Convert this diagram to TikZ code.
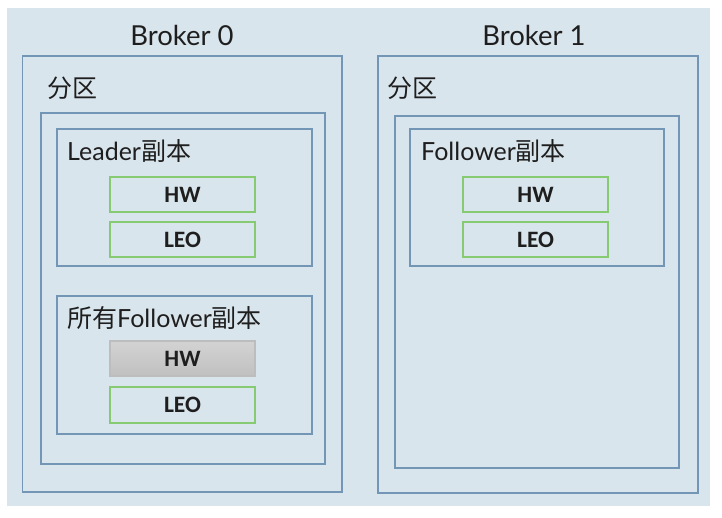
\documentclass[tikz,border=0pt]{standalone}
\usepackage{fontspec}
\setmainfont{Lato}
\newfontfamily\cjk{Noto Sans CJK SC}
\newfontfamily\valfont{Carlito}
\definecolor{bgc}{HTML}{D9E5EC}
\definecolor{edgec}{HTML}{7396B6}
\definecolor{greenc}{HTML}{86CB72}
\definecolor{grayt}{HTML}{D3D3D3}
\definecolor{grayb}{HTML}{C0C0C0}
\definecolor{grayd}{HTML}{BDBDBD}
\definecolor{txt}{HTML}{1E1E1E}
\tikzset{
  bluebox/.style={draw=edgec, line width=1.1pt},
  valbox/.style={draw=greenc, line width=1.1pt, inner sep=0pt, outer sep=0pt,
    font=\valfont\bfseries\fontsize{23.5}{23.5}\selectfont, text=txt},
  grayvalbox/.style={valbox, draw=grayd, top color=grayt, bottom color=grayb},
  title/.style={font=\fontsize{27.5}{27.5}\selectfont, text=txt, inner sep=0pt},
  lbl/.style={font=\fontsize{25}{25}\selectfont, text=txt, inner sep=0pt, anchor=west},
}
\begin{document}
\begin{tikzpicture}[x=1pt,y=-1pt]
\useasboundingbox (0,0) rectangle (722,517);
\fill[bgc] (7,8) rectangle (710,506);
% Broker 0
\node[title] (t0) at (182,35) {Broker 0};
\draw[bluebox] (22.5,56) rectangle (342,492);
\node[lbl] (p0) at (47,88) {\cjk 分区};
\draw[bluebox] (41,113) rectangle (325,464);
\draw[bluebox] (57,129) rectangle (312,266);
\node[lbl] (lr) at (67,151) {Leader{\cjk 副本}};
\node[valbox, minimum width=145pt, minimum height=35pt, anchor=north west] (hw1) at (110,177) {HW};
\node[valbox, minimum width=145pt, minimum height=35pt, anchor=north west] (leo1) at (110,222) {LEO};
\draw[bluebox] (57,296) rectangle (312,434);
\node[lbl] (af) at (67,318) {{\cjk 所有}Follower{\cjk 副本}};
\node[grayvalbox, minimum width=145pt, minimum height=35pt, anchor=north west] (hw2) at (110,341) {HW};
\node[valbox, minimum width=145pt, minimum height=36pt, anchor=north west] (leo2) at (110,387) {LEO};
% Broker 1
\node[title] (t1) at (534,35) {Broker 1};
\draw[bluebox] (378,56) rectangle (698,493);
\node[lbl] (p1) at (387,88) {\cjk 分区};
\draw[bluebox] (395,116) rectangle (679,468);
\draw[bluebox] (410,129) rectangle (664,266);
\node[lbl] (fr) at (421,151) {Follower{\cjk 副本}};
\node[valbox, minimum width=145pt, minimum height=35pt, anchor=north west] (hw3) at (463,177) {HW};
\node[valbox, minimum width=145pt, minimum height=35pt, anchor=north west] (leo3) at (463,222) {LEO};
\end{tikzpicture}
\end{document}
